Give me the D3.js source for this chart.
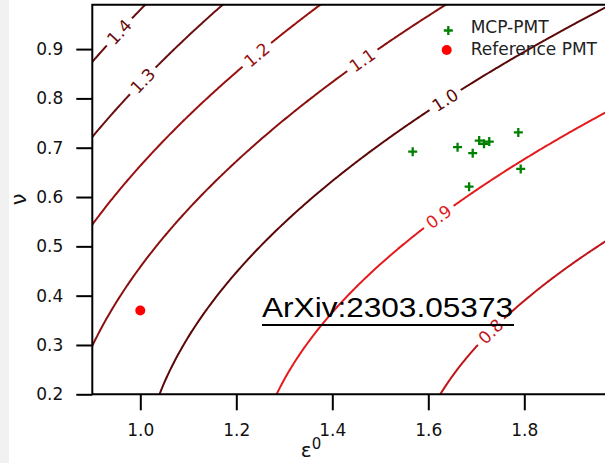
<!DOCTYPE html>
<html><head><meta charset="utf-8">
<script src="https://cdn.jsdelivr.net/npm/d3@7"></script>
<style>body{margin:0;background:#fff} svg{display:block}</style>
</head><body>
<svg id="c" width="605" height="463"></svg>
<script>
// ---- data ----
const levels      = [0.8, 0.9, 1.0, 1.1, 1.2, 1.3, 1.4];
const levelLabels = ["0.8", "0.9", "1.0", "1.1", "1.2", "1.3", "1.4"];
const mcpEps = [1.5675, 1.661, 1.6925, 1.706, 1.716, 1.727, 1.7875, 1.7925, 1.685];
const mcpNu  = [0.692, 0.701, 0.689, 0.7145, 0.708, 0.7125, 0.731, 0.657, 0.621];
const refEps = [1.0];
const refNu  = [0.37];
const xTicks = [1.0, 1.2, 1.4, 1.6, 1.8];
const yTicks = [0.2, 0.3, 0.4, 0.5, 0.6, 0.7, 0.8, 0.9];
const legendNames = ["MCP-PMT", "Reference PMT"];
const watermark = "ArXiv:2303.05373";

// contour field: relative resolution sqrt((1+nu^2)/eps0)
const field = (e, n) => Math.sqrt((1 + n * n) / e);

// ---- style / layout ----
const levelColors = ["#c0141a", "#e41a1c", "#5c0707", "#8a1010", "#9a0f0f", "#6b1010", "#660c0c"];
const labelAnchor = [[1.735, 0.322], [1.623, 0.558], [1.636, 0.793], [1.468, 0.870], [1.244, 0.887], [1.008, 0.833], [0.962, 0.93]];
const L = 92.3, R = 620.3, T = 4.7, B = 394.3;

const svg = d3.select("#c");
svg.append("rect").attr("x", 0).attr("y", 0).attr("width", 9).attr("height", 463).attr("fill", "#f1f1f1");

const x = d3.scaleLinear().domain([0.9, 2.0]).range([L, R]);
const y = d3.scaleLinear().domain([0.2, 0.99]).range([B, T]);

const defs = svg.append("defs");
defs.append("clipPath").attr("id", "plot").append("rect")
  .attr("x", L).attr("y", T).attr("width", R - L).attr("height", B - T);

// grid
const e0 = 0.8, e1 = 2.2, n0 = 0.1, n1 = 1.1, step = 0.0025;
const nx = Math.round((e1 - e0) / step) + 1, ny = Math.round((n1 - n0) / step) + 1;
const vals = new Float64Array(nx * ny);
for (let j = 0; j < ny; j++) for (let i = 0; i < nx; i++) vals[j * nx + i] = field(e0 + i * step, n0 + j * step);
const conts = d3.contours().size([nx, ny]).thresholds(levels)(vals);
const gx = g => x(e0 + (g - 0.5) * step);
const gy = g => y(n0 + (g - 0.5) * step);

const mask = defs.append("mask").attr("id", "lblmask").attr("maskUnits", "userSpaceOnUse")
  .attr("x", 0).attr("y", 0).attr("width", 605).attr("height", 463);
mask.append("rect").attr("x", 0).attr("y", 0).attr("width", 605).attr("height", 463).attr("fill", "#fff");

const lines = svg.append("g").attr("clip-path", "url(#plot)").append("g").attr("mask", "url(#lblmask)");
const labelsG = svg.append("g");

conts.forEach((c, k) => {
  const rings = [];
  c.coordinates.forEach(poly => poly.forEach(ring => rings.push(ring.map(p => [gx(p[0]), gy(p[1])]))));
  lines.append("path")
    .attr("d", rings.map(r => "M" + r.map(p => p[0].toFixed(2) + "," + p[1].toFixed(2)).join("L")).join(""))
    .attr("fill", "none").attr("stroke", levelColors[k]).attr("stroke-width", 2);
  // label
  const ax = x(labelAnchor[k][0]), ay = y(labelAnchor[k][1]);
  let best = null, bd = Infinity;
  rings.forEach(r => r.forEach((p, i) => {
    if (p[0] < L || p[0] > R || p[1] < T || p[1] > B) return;
    const d = (p[0] - ax) ** 2 + (p[1] - ay) ** 2;
    if (d < bd) { bd = d; best = [r, i]; }
  }));
  if (!best) return;
  const [r, i] = best;
  const pa = r[Math.max(0, i - 4)], pb = r[Math.min(r.length - 1, i + 4)];
  let ang = Math.atan2(pb[1] - pa[1], pb[0] - pa[0]) * 180 / Math.PI;
  if (ang > 90) ang -= 180; if (ang < -90) ang += 180;
  const p = r[i];
  const t = labelsG.append("text")
    .attr("transform", `translate(${p[0]},${p[1]}) rotate(${ang})`)
    .attr("text-anchor", "middle").attr("dy", "0.36em")
    .attr("font-family", "DejaVu Sans").attr("font-size", 17)
    .attr("fill", levelColors[k]).text(levelLabels[k]);
  const w = t.node().getComputedTextLength() + 10;
  mask.append("rect").attr("x", -w / 2).attr("y", -8).attr("width", w).attr("height", 16)
    .attr("transform", `translate(${p[0]},${p[1]}) rotate(${ang})`).attr("fill", "#000");
});

// axes
const fmt = d3.format(".1f");
const ax = svg.append("g").attr("transform", `translate(0,${B})`)
  .call(d3.axisBottom(x).tickValues(xTicks).tickSize(16).tickPadding(14).tickFormat(fmt));
const ay = svg.append("g").attr("transform", `translate(${L},0)`)
  .call(d3.axisLeft(y).tickValues(yTicks).tickSize(16).tickPadding(13).tickFormat(fmt));
[ax, ay].forEach(g => {
  g.select(".domain").remove();
  g.selectAll(".tick line").attr("stroke", "#000").attr("stroke-width", 2);
  g.selectAll(".tick text").attr("font-family", "DejaVu Sans").attr("font-size", 17).attr("fill", "#111");
});
// spines
svg.append("path").attr("d", `M${R},${T}H${L}V${B}H${R}`).attr("fill", "none").attr("stroke", "#000").attr("stroke-width", 2);

// scatter
const plus = "M-4.5,0H4.5M0,-4.5V4.5";
svg.append("g").selectAll("path").data(mcpEps).join("path")
  .attr("transform", (d, i) => `translate(${x(d)},${y(mcpNu[i])})`)
  .attr("d", plus).attr("stroke", "green").attr("stroke-width", 2.3).attr("fill", "none");
svg.append("g").selectAll("circle").data(refEps).join("circle")
  .attr("cx", d => x(d)).attr("cy", (d, i) => y(refNu[i])).attr("r", 5).attr("fill", "red");

// legend
const lg = svg.append("g");
lg.append("path").attr("transform", "translate(448.3,30.5)").attr("d", plus)
  .attr("stroke", "green").attr("stroke-width", 2.3);
lg.append("circle").attr("cx", 446.7).attr("cy", 50).attr("r", 5).attr("fill", "red");
lg.selectAll("text").data(legendNames).join("text")
  .attr("x", 470.7).attr("y", (d, i) => 32.7 + i * 22.3)
  .attr("font-family", "DejaVu Sans").attr("font-size", 17).attr("fill", "#222").text(d => d);

// axis labels
svg.append("text").attr("x", 311).attr("y", 457).attr("text-anchor", "middle")
  .attr("font-family", "DejaVu Sans").attr("font-size", 20).attr("fill", "#111")
  .html('ε<tspan dy="-8" font-size="15">0</tspan>');
svg.append("text").attr("transform", "translate(26,199.5) rotate(-90)").attr("text-anchor", "middle")
  .attr("font-family", "DejaVu Sans").attr("font-size", 21).attr("fill", "#111").text("ν");

// watermark
svg.append("text").attr("x", 262).attr("y", 317.3)
  .attr("font-family", "Liberation Sans").attr("font-size", 28)
  .attr("textLength", 251).attr("lengthAdjust", "spacingAndGlyphs").attr("fill", "#000").text(watermark);
svg.append("line").attr("x1", 262).attr("x2", 514).attr("y1", 325).attr("y2", 325)
  .attr("stroke", "#000").attr("stroke-width", 2);
</script>
</body></html>
